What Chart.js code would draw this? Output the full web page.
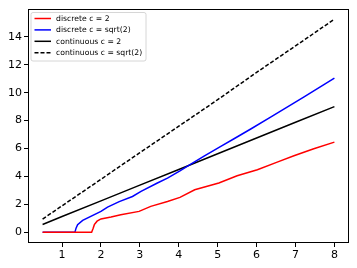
<!DOCTYPE html>
<html>
<head>
<meta charset="utf-8">
<script src="https://cdn.jsdelivr.net/npm/chart.js@4/dist/chart.umd.min.js"></script>
<style>
html,body{margin:0;padding:0;background:#fff;}
#wrap{width:357px;height:268px;position:relative;}
</style>
</head>
<body>
<div id="wrap"><canvas id="c" width="357" height="268"></canvas></div>
<script>
// Data
const redX  = [0.5, 1.0, 1.5, 1.76, 1.80, 1.83, 1.9, 2.0, 2.26, 2.51, 2.98, 3.28, 3.71, 4.03, 4.41, 5.03, 5.5, 6.02, 6.53, 6.96, 7.47, 8.0];
const redY  = [0, 0, 0, 0, 0.3, 0.55, 0.8, 0.96, 1.1, 1.26, 1.5, 1.86, 2.21, 2.5, 3.05, 3.53, 4.05, 4.48, 5.03, 5.48, 5.98, 6.46];
const blueX = [0.5, 1.0, 1.33, 1.36, 1.40, 1.53, 2.0, 2.17, 2.47, 2.81, 3.03, 3.45, 3.71, 4.03, 4.31, 4.65, 5.08, 5.42, 5.85, 6.36, 7.21, 8.0];
const blueY = [0, 0, 0, 0.3, 0.55, 0.86, 1.5, 1.81, 2.2, 2.57, 2.93, 3.53, 3.88, 4.4, 4.88, 5.45, 6.15, 6.7, 7.4, 8.25, 9.68, 11.05];
const contX = [0.5, 1, 2, 3, 4, 5, 6, 7, 8];
const cont2Y = [0.56, 1.13, 2.25, 3.38, 4.5, 5.63, 6.75, 7.88, 9.0];
const contS2Y = [0.95, 1.9, 3.8, 5.7, 7.6, 9.5, 11.45, 13.35, 15.26];
const xTicks = [1, 2, 3, 4, 5, 6, 7, 8];
const yTicks = [0, 2, 4, 6, 8, 10, 12, 14];
const labels = ['discrete c = 2', 'discrete c = sqrt(2)', 'continuous c = 2', 'continuous c = sqrt(2)'];

const pts = (xs, ys) => xs.map((x, i) => ({x: x, y: ys[i]}));
const FONT = 'DejaVu Sans';

const legendPlugin = {
  id: 'innerLegend',
  afterDraw(chart) {
    const ctx = chart.ctx;
    const a = chart.chartArea;
    // frame
    ctx.save();
    ctx.strokeStyle = '#000';
    ctx.lineWidth = 1;
    ctx.strokeRect(Math.round(a.left) + 0.5, Math.round(a.top) + 0.5, Math.round(a.right - a.left) - 1, Math.round(a.bottom - a.top) - 1);
    // legend box
    const bx = 31, by = 12.5, bw = 115, bh = 48.5;
    ctx.fillStyle = 'rgba(255,255,255,0.8)';
    ctx.strokeStyle = '#cccccc';
    ctx.lineWidth = 0.8;
    ctx.beginPath();
    if (ctx.roundRect) ctx.roundRect(bx, by, bw, bh, 2); else ctx.rect(bx, by, bw, bh);
    ctx.fill();
    ctx.stroke();
    ctx.font = '7.7px "' + FONT + '"';
    ctx.textBaseline = 'middle';
    ctx.textAlign = 'left';
    chart.data.datasets.forEach((ds, i) => {
      const yy = 18.5 + i * 11.4;
      ctx.strokeStyle = ds.borderColor;
      ctx.lineWidth = 1.5;
      ctx.setLineDash(ds.borderDash || []);
      ctx.beginPath();
      ctx.moveTo(34.5, yy);
      ctx.lineTo(51, yy);
      ctx.stroke();
      ctx.setLineDash([]);
      ctx.fillStyle = '#000';
      ctx.fillText(ds.label, 56, yy + 0.5);
    });
    ctx.restore();
  }
};

new Chart(document.getElementById('c'), {
  type: 'line',
  data: {
    datasets: [
      {label: labels[0], data: pts(redX, redY), borderColor: '#ff0000', borderWidth: 1.5, pointRadius: 0, tension: 0, fill: false},
      {label: labels[1], data: pts(blueX, blueY), borderColor: '#0000ff', borderWidth: 1.5, pointRadius: 0, tension: 0, fill: false},
      {label: labels[2], data: pts(contX, cont2Y), borderColor: '#000000', borderWidth: 1.5, pointRadius: 0, tension: 0, fill: false},
      {label: labels[3], data: pts(contX, contS2Y), borderColor: '#000000', borderWidth: 1.5, borderDash: [4, 2], pointRadius: 0, tension: 0, fill: false}
    ]
  },
  options: {
    responsive: false,
    animation: false,
    devicePixelRatio: 1,
    layout: {padding: {left: 0, right: 8, top: 8, bottom: 0}},
    plugins: {legend: {display: false}, tooltip: {enabled: false}},
    scales: {
      x: {
        type: 'linear',
        min: 0.125, max: 8.375,
        afterBuildTicks: (s) => { s.ticks = xTicks.map(v => ({value: v})); },
        afterFit: (s) => { s.height = 25; },
        grid: {drawOnChartArea: false, drawTicks: true, tickLength: 4, color: '#000'},
        border: {display: false},
        ticks: {color: '#000', padding: 2, font: {family: FONT, size: 11}, maxRotation: 0, autoSkip: false}
      },
      y: {
        type: 'linear',
        min: -0.763, max: 16.02,
        afterBuildTicks: (s) => { s.ticks = yTicks.map(v => ({value: v})); },
        afterFit: (s) => { s.width = 28; },
        grid: {drawOnChartArea: false, drawTicks: true, tickLength: 4, color: '#000'},
        border: {display: false},
        ticks: {color: '#000', padding: 2, font: {family: FONT, size: 11}, autoSkip: false}
      }
    }
  },
  plugins: [legendPlugin]
});
</script>
</body>
</html>
